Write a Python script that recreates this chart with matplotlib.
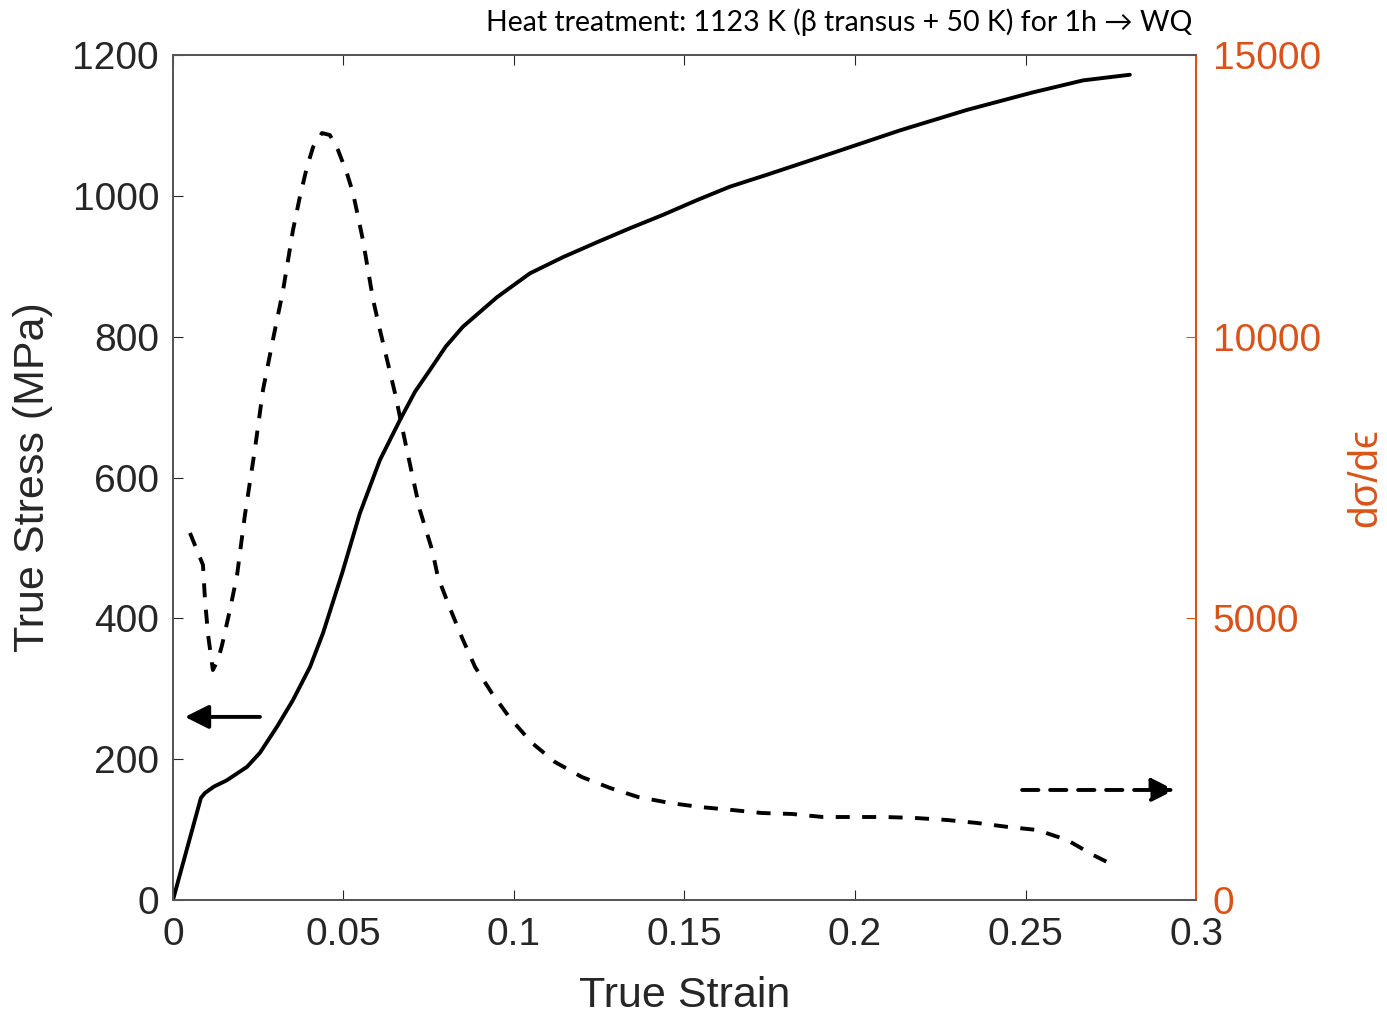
import matplotlib
matplotlib.use("Agg")
import matplotlib.pyplot as plt

# True stress-strain curve (left axis)
strain = [0, 0.0082, 0.0094, 0.0120, 0.0158, 0.0217, 0.0255, 0.0305, 0.0352, 0.0402,
          0.0440, 0.0496, 0.0548, 0.0607, 0.0666, 0.0710, 0.0754, 0.0800, 0.0850,
          0.0950, 0.1047, 0.1144, 0.1243, 0.1340, 0.1437, 0.1537, 0.1633, 0.1742,
          0.1935, 0.2132, 0.2328, 0.2522, 0.2669, 0.2806]
stress = [0, 145, 152, 161, 170, 189, 209, 246, 284, 331,
          379, 464, 549, 625, 682, 722, 753, 786, 814,
          856, 890, 913, 934, 954, 973, 994, 1013, 1030,
          1061, 1093, 1122, 1147, 1164, 1172]

# Work hardening rate d(sigma)/d(eps) (right axis)
strain_wh = [0.0050, 0.0088, 0.0094, 0.0103, 0.0117, 0.0132, 0.0144, 0.0167, 0.0188,
             0.0211, 0.0240, 0.0264, 0.0293, 0.0323, 0.0352, 0.0372, 0.0393, 0.0411,
             0.0437, 0.0460, 0.0484, 0.0510, 0.0528, 0.0543, 0.0557, 0.0572, 0.0587,
             0.0607, 0.0628, 0.0651, 0.0686, 0.0724, 0.0760, 0.0777, 0.0812, 0.0848,
             0.0886, 0.0935, 0.0988, 0.1053, 0.1120, 0.1199, 0.1282, 0.1364, 0.1457,
             0.1545, 0.1639, 0.1727, 0.1815, 0.1906, 0.1994, 0.2088, 0.2176, 0.2270,
             0.2358, 0.2449, 0.2534, 0.2622, 0.2698, 0.2757]
hardening = [6515, 5947, 5325, 4704, 4083, 4260, 4527, 5148, 5769,
             6834, 7988, 9053, 9941, 10828, 11893, 12479, 13012, 13367,
             13615, 13580, 13313, 12905, 12550, 12124, 11716, 11183, 10651,
             10118, 9586, 9000, 7988, 6923, 6213, 5734, 5183, 4651,
             4136, 3675, 3231, 2787, 2450, 2183, 1988, 1828, 1722,
             1651, 1598, 1544, 1527, 1473, 1473, 1473, 1456, 1420,
             1367, 1296, 1243, 1065, 799, 621]

x_ticks = [0, 0.05, 0.1, 0.15, 0.2, 0.25, 0.3]
x_tick_labels = ["0", "0.05", "0.1", "0.15", "0.2", "0.25", "0.3"]
y_ticks = [0, 200, 400, 600, 800, 1000, 1200]
y2_ticks = [0, 5000, 10000, 15000]

orange = "#D95319"
dark = "#262626"

plt.rcParams['font.family'] = ['Liberation Sans', 'DejaVu Sans']

fig = plt.figure(figsize=(13.87, 10.19), dpi=100)
ax = fig.add_axes([0.1247, 0.1168, 0.7376, 0.8292])
ax2 = ax.twinx()

ax.plot(strain, stress, color='k', lw=2.8, solid_capstyle='round',
        solid_joinstyle='round')
ax2.plot(strain_wh, hardening, color='k', lw=2.8, dashes=(3.6, 3.2))

ax.set_xlim(0, 0.3)
ax.set_ylim(0, 1200)
ax2.set_ylim(0, 15000)
ax.set_xticks(x_ticks)
ax.set_xticklabels(x_tick_labels)
ax.set_yticks(y_ticks)
ax2.set_yticks(y2_ticks)

ax.tick_params(axis='x', direction='in', length=7, width=0.8, top=True,
               labelsize=28, colors=dark, pad=12)
ax.tick_params(axis='y', direction='in', length=7, width=0.8,
               labelsize=28, colors=dark, pad=10)
ax2.tick_params(axis='y', direction='in', length=7, width=0.8,
                labelsize=28, colors=orange, pad=12)

for s in ['left', 'bottom', 'top']:
    ax.spines[s].set_color('#555555')
    ax.spines[s].set_linewidth(1.3)
    ax2.spines[s].set_color('#555555')
    ax2.spines[s].set_linewidth(1.3)
ax2.spines['right'].set_color(orange)
ax2.spines['right'].set_linewidth(1.5)
ax.spines['right'].set_visible(False)

ax.set_xlabel("True Strain", fontsize=31, color=dark, labelpad=17)
ax.set_ylabel("True Stress (MPa)", fontsize=31, color=dark, labelpad=14)
ax2.set_ylabel("dσ/dϵ", fontsize=29, color=orange, labelpad=18)

# arrows pointing to the matching axis
ax.annotate('', xy=(0.0035, 260), xytext=(0.0255, 260),
            arrowprops=dict(arrowstyle='-|>,head_length=0.6,head_width=0.3',
                            color='k', lw=2.8, mutation_scale=24,
                            shrinkA=0, shrinkB=0))
ax2.annotate('', xy=(0.2938, 1953), xytext=(0.249, 1953),
             arrowprops=dict(arrowstyle='-|>,head_length=0.6,head_width=0.3',
                             color='k', lw=2.8, mutation_scale=24,
                             linestyle=(0, (4.2, 3.0)),
                             shrinkA=0, shrinkB=0))

fig.text(0.8594, 0.978, "Heat treatment: 1123 K (β transus + 50 K) for 1h → WQ",
         ha='right', va='center', fontsize=20.5, color='k',
         family=['Lato', 'DejaVu Sans'])

fig.savefig("out.png", dpi=100)
